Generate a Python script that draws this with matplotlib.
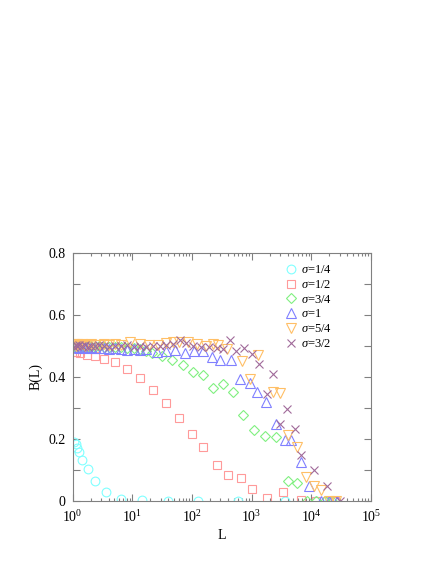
import matplotlib
matplotlib.use("Agg")
import matplotlib.pyplot as plt
from matplotlib.ticker import MultipleLocator, LogLocator, NullFormatter

plt.rcParams['font.family'] = ['Liberation Serif', 'DejaVu Serif']
plt.rcParams['mathtext.fontset'] = 'custom'
plt.rcParams['mathtext.rm'] = 'Liberation Serif'
plt.rcParams['mathtext.it'] = 'Liberation Serif:italic'

## data, one list per series
L_14 = [1.05, 1.12, 1.19, 1.29, 1.45, 1.78, 2.39, 3.61, 6.36, 14.6, 40, 128, 594, 3600, 12000, 20000]
B_14 = [0.19, 0.184, 0.171, 0.158, 0.132, 0.102, 0.065, 0.027, 0.007, 0.001, 0, 0, 0, 0, 0, 0]

L_12 = [1.05, 1.14, 1.33, 1.74, 2.39, 3.38, 5.17, 8.22, 13.4, 22.3, 36.6, 61, 98.5, 154, 258, 403,
        651, 1019, 1778, 3370, 6800, 12000, 18000, 25000]
B_12 = [0.48, 0.48, 0.478, 0.471, 0.467, 0.458, 0.447, 0.425, 0.396, 0.357, 0.315, 0.267, 0.216, 0.175,
        0.115, 0.084, 0.073, 0.038, 0.01, 0.028, 0.001, 0, 0, 0]

L_34 = [1.05, 1.12, 1.19, 1.29, 1.45, 1.6, 1.78, 2.0, 2.39, 2.8, 3.4, 4.1, 5.2, 6.4, 8.2, 10.5, 13.4,
        17, 21, 31, 47, 71, 102, 150, 228, 334, 490, 721, 1090, 1663, 2540, 3990, 5790, 8500,
        12000, 17000, 22000]
B_34 = [0.5, 0.497, 0.5, 0.498, 0.5, 0.496, 0.499, 0.5, 0.497, 0.499, 0.496, 0.498, 0.495, 0.497,
        0.494, 0.493, 0.49, 0.485, 0.477, 0.468, 0.456, 0.438, 0.415, 0.406, 0.365, 0.376, 0.352,
        0.277, 0.229, 0.21, 0.205, 0.065, 0.057, 0, 0, 0, 0]

L_1 = [1.05, 1.12, 1.19, 1.29, 1.45, 1.6, 1.78, 2.0, 2.39, 2.8, 3.4, 4.1, 5.2, 6.4, 8.2, 10.5, 13.4,
       17, 25.5, 36.6, 51.9, 75, 108, 150, 213, 300, 443, 633, 930, 1250, 1740, 2530, 3600, 4640,
       6630, 9180, 14700, 20000, 27000]
B_1 = [0.495, 0.498, 0.496, 0.494, 0.497, 0.495, 0.493, 0.496, 0.494, 0.492, 0.494, 0.49, 0.493,
       0.491, 0.488, 0.49, 0.487, 0.489, 0.48, 0.485, 0.486, 0.478, 0.484, 0.484, 0.463, 0.455,
       0.455, 0.394, 0.38, 0.352, 0.32, 0.247, 0.195, 0.197, 0.126, 0.048, 0, 0, 0]

L_54 = [1.05, 1.12, 1.19, 1.29, 1.45, 1.6, 1.78, 2.0, 2.39, 2.8, 3.4, 4.1, 5.2, 6.4, 9.1, 13.4, 19,
        27, 36.6, 48.5, 61, 86, 120, 170, 227, 275, 380, 680, 930, 1280, 2250, 2960, 4100, 5660,
        8120, 11000, 14700, 20000, 26000]
B_54 = [0.505, 0.5, 0.506, 0.502, 0.505, 0.5, 0.503, 0.506, 0.502, 0.504, 0.505, 0.502, 0.506,
        0.503, 0.514, 0.506, 0.504, 0.502, 0.508, 0.512, 0.514, 0.514, 0.506, 0.5, 0.506, 0.503,
        0.489, 0.452, 0.393, 0.471, 0.352, 0.347, 0.213, 0.175, 0.078, 0.048, 0.035, 0, 0]

L_32 = [1.05, 1.12, 1.19, 1.29, 1.45, 1.6, 1.78, 2.0, 2.39, 2.8, 3.4, 4.1, 5.2, 6.4, 8.2, 10.5, 13.4,
        17, 22, 29, 37, 48, 63, 80, 105, 140, 190, 260, 330, 430, 545, 740, 1000, 1330, 1780, 2240,
        2950, 3860, 5300, 6800, 11000, 18000, 30000]
B_32 = [0.498, 0.502, 0.499, 0.503, 0.5, 0.502, 0.498, 0.501, 0.499, 0.502, 0.5, 0.497, 0.501,
        0.499, 0.502, 0.498, 0.5, 0.497, 0.5, 0.499, 0.502, 0.505, 0.519, 0.51, 0.5, 0.497, 0.495,
        0.492, 0.49, 0.519, 0.485, 0.494, 0.475, 0.44, 0.345, 0.41, 0.247, 0.296, 0.231, 0.148,
        0.1, 0.048, 0]

series = [
    (L_14, B_14, 'o', 6.3, '#80ffff', r'$\sigma$=1/4'),
    (L_12, B_12, 's', 5.6, '#ff9a9a', r'$\sigma$=1/2'),
    (L_34, B_34, 'D', 5.2, '#80f080', r'$\sigma$=3/4'),
    (L_1, B_1, '^', 7.0, '#8080ff', r'$\sigma$=1'),
    (L_54, B_54, 'v', 7.0, '#ffbf66', r'$\sigma$=5/4'),
    (L_32, B_32, 'x', 6.0, '#a06a9a', r'$\sigma$=3/2'),
]

fig = plt.figure(figsize=(4.36, 5.64), dpi=100, facecolor='w')
ax = fig.add_axes([0.1667, 0.1122, 0.6842, 0.4392])

for xs, ys, mk, ms, col, lab in series:
    ax.plot(xs, ys, linestyle='none', marker=mk, markersize=ms, markerfacecolor='none',
            markeredgecolor=col, markeredgewidth=0.8, label=lab)

ax.set_xscale('log')
ax.set_xlim(1, 1e5)
ax.set_ylim(0, 0.8)
ax.set_yticks([0, 0.2, 0.4, 0.6, 0.8])
ax.set_yticklabels(['0', '0.2', '0.4', '0.6', '0.8'])
ax.yaxis.set_minor_locator(MultipleLocator(0.1))
ax.xaxis.set_minor_locator(LogLocator(base=10, subs=range(2, 10), numticks=20))
ax.xaxis.set_minor_formatter(NullFormatter())

ax.tick_params(which='both', direction='in', top=True, right=True, colors='#808080',
               labelcolor='black', labelsize=10, width=0.8)
ax.tick_params(which='major', length=5)
ax.tick_params(axis='y', which='minor', length=5)
ax.tick_params(axis='x', which='minor', length=2.5)
ax.tick_params(axis='x', which='major', pad=6)
ax.tick_params(axis='y', which='major', pad=5)
for sp in ax.spines.values():
    sp.set_color('#808080')
    sp.set_linewidth(0.8)

ax.set_xlabel('L', fontsize=10, labelpad=3)
ax.set_ylabel('B(L)', fontsize=10)

ax.legend(loc='upper left', bbox_to_anchor=(0.7, 0.975), frameon=False, fontsize=9,
          handlelength=0.8, handletextpad=0.35, labelspacing=0.22, borderaxespad=0, numpoints=1)

fig.savefig('out.png', dpi=100, facecolor='w')
